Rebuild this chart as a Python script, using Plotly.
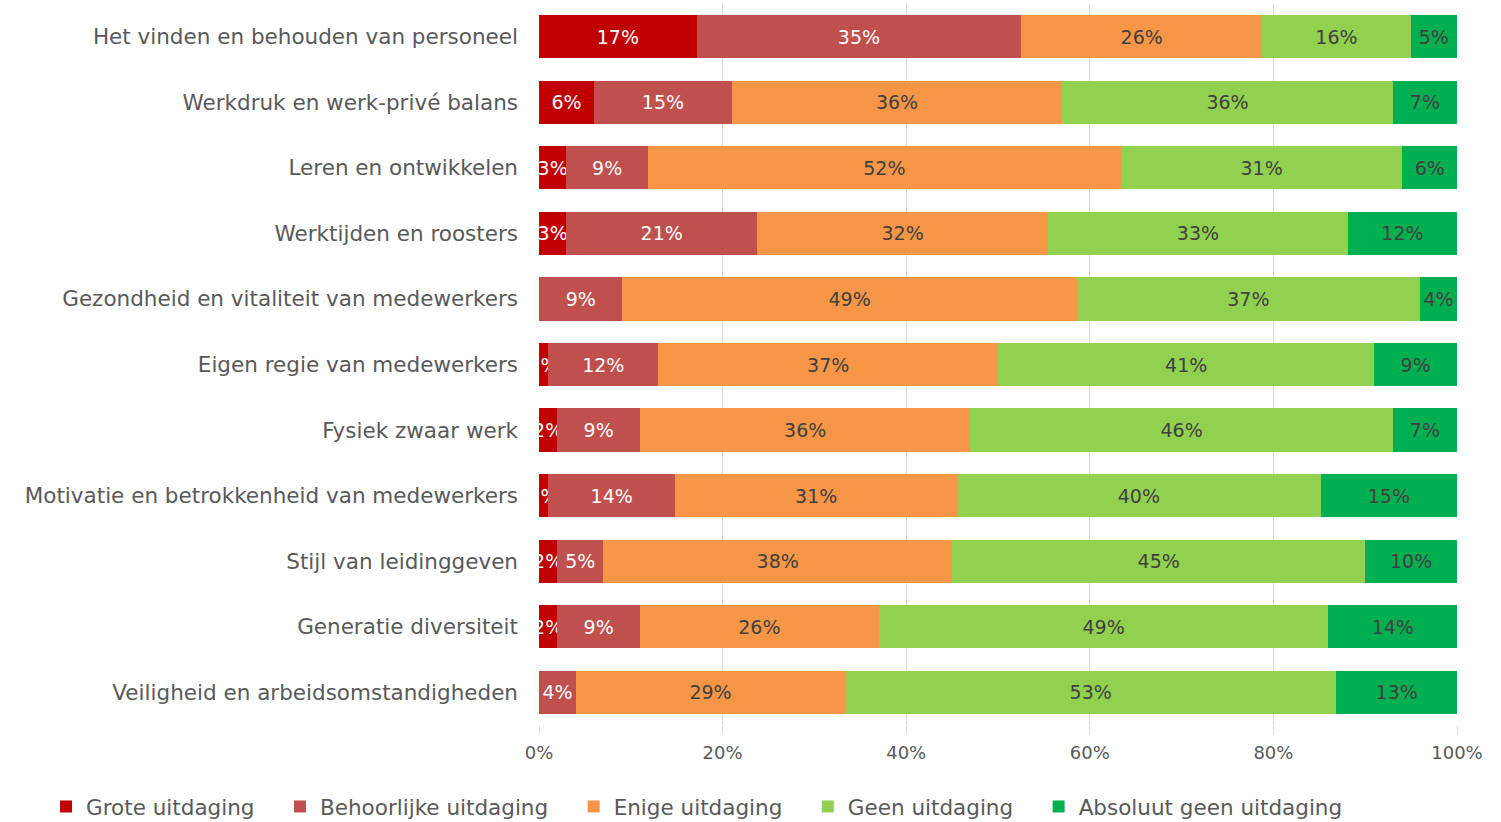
import plotly.graph_objects as go

categories = [
    "Het vinden en behouden van personeel",
    "Werkdruk en werk-privé balans",
    "Leren en ontwikkelen",
    "Werktijden en roosters",
    "Gezondheid en vitaliteit van medewerkers",
    "Eigen regie van medewerkers",
    "Fysiek zwaar werk",
    "Motivatie en betrokkenheid van medewerkers",
    "Stijl van leidinggeven",
    "Generatie diversiteit",
    "Veiligheid en arbeidsomstandigheden",
]

grote = [17, 6, 3, 3, 0, 1, 2, 1, 2, 2, 0]
behoorlijke = [35, 15, 9, 21, 9, 12, 9, 14, 5, 9, 4]
enige = [26, 36, 52, 32, 49, 37, 36, 31, 38, 26, 29]
geen = [16, 36, 31, 33, 37, 41, 46, 40, 45, 49, 53]
absoluut = [5, 7, 6, 12, 4, 9, 7, 15, 10, 14, 13]

series_names = [
    "Grote uitdaging",
    "Behoorlijke uitdaging",
    "Enige uitdaging",
    "Geen uitdaging",
    "Absoluut geen uitdaging",
]
series_values = [grote, behoorlijke, enige, geen, absoluut]
series_colors = ["#C00000", "#C0504D", "#F79646", "#92D050", "#00B050"]
label_colors = ["#FFFFFF", "#FFFFFF", "#404040", "#404040", "#404040"]
tick_vals = [0, 20, 40, 60, 80, 100]
tick_text = ["0%", "20%", "40%", "60%", "80%", "100%"]

FONT = "DejaVu Sans"
pad = "\u00a0" * 3

fig = go.Figure()
for name, vals, col, lcol in zip(series_names, series_values, series_colors, label_colors):
    fig.add_trace(go.Bar(
        y=categories,
        x=vals,
        name=name + pad,
        orientation="h",
        marker=dict(color=col, line=dict(width=0)),
        text=[f"{v}%" if v > 0 else "" for v in vals],
        textposition="inside",
        insidetextanchor="middle",
        constraintext="none",
        textangle=0,
        textfont=dict(family=FONT, size=19, color=lcol),
        hoverinfo="skip",
    ))

fig.update_layout(
    barmode="stack",
    barnorm="percent",
    bargap=0.34,
    width=1501,
    height=822,
    margin=dict(l=539, r=44, t=4, b=97, autoexpand=False),
    paper_bgcolor="white",
    plot_bgcolor="white",
    font=dict(family=FONT, color="#595959"),
    legend=dict(
        orientation="h",
        x=-0.537,
        xanchor="left",
        y=-0.0846,
        yanchor="top",
        font=dict(family=FONT, size=21.5, color="#595959"),
        traceorder="normal",
        itemclick=False,
    ),
    xaxis=dict(
        range=[0, 100],
        tickvals=tick_vals,
        ticktext=tick_text,
        showgrid=True,
        gridcolor="#D9D9D9",
        gridwidth=1,
        zeroline=False,
        showline=False,
        ticks="outside",
        ticklen=8,
        tickcolor="#D9D9D9",
        tickfont=dict(family=FONT, size=18, color="#595959"),
        ticklabelstandoff=3,
    ),
    yaxis=dict(
        autorange="reversed",
        showgrid=False,
        showline=False,
        ticks="",
        tickfont=dict(family=FONT, size=21.5, color="#595959"),
        ticklabelstandoff=20,
    ),
)

fig.write_html("out.html")
